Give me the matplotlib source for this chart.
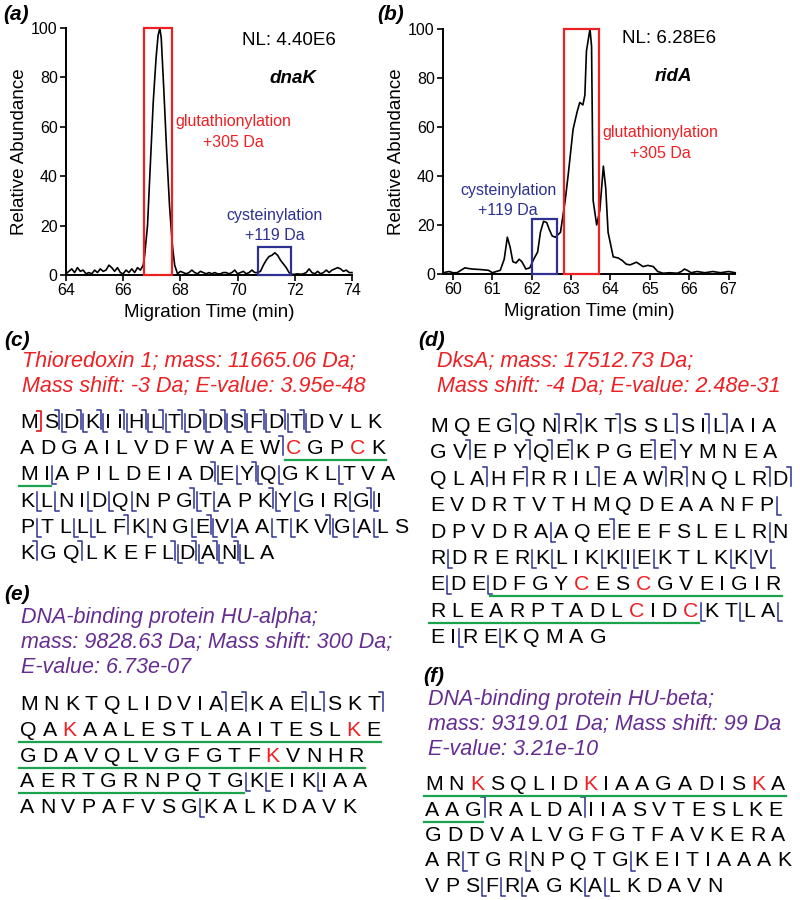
import matplotlib
matplotlib.use('Agg')
import matplotlib.pyplot as plt
from matplotlib.patches import Rectangle

plt.rcParams['font.family'] = ['Liberation Sans', 'DejaVu Sans']

RED = '#ed2024'
BLUE = '#2e3192'
GREEN = '#1ba24f'
PURPLE = '#662d91'

# (a) dnaK electropherogram
time_a = [64.0, 64.1, 64.2, 64.3, 64.4, 64.5, 64.6, 64.7, 64.8, 64.9, 65.0, 65.1, 65.2, 65.3,
          65.4, 65.5, 65.6, 65.7, 65.8, 65.9, 66.0, 66.1, 66.2, 66.3, 66.4, 66.5, 66.6, 66.7,
          66.75, 66.85, 66.95, 67.05, 67.15, 67.22, 67.28, 67.33, 67.42, 67.52, 67.62, 67.72,
          67.8, 67.9, 68.0, 68.1, 68.2, 68.3, 68.4, 68.5, 68.6, 68.7, 68.8, 68.9, 69.0, 69.1,
          69.2, 69.3, 69.4, 69.5, 69.6, 69.7, 69.8, 69.9, 70.0, 70.1, 70.2, 70.3, 70.4, 70.5,
          70.6, 70.7, 70.8, 70.9, 71.0, 71.1, 71.2, 71.3, 71.4, 71.5, 71.6, 71.7, 71.8, 71.9,
          72.0, 72.1, 72.2, 72.3, 72.4, 72.5, 72.6, 72.7, 72.8, 72.9, 73.0, 73.1, 73.2, 73.3,
          73.4, 73.5, 73.6, 73.7, 73.8, 73.9, 74.0]
abund_a = [0.5, 1.5, 2.5, 1, 3, 1.5, 2, 0.5, 1, 0.5, 2, 1, 2.5, 1.5,
           2, 4, 3, 1.5, 3, 1, 0.5, 2, 1, 2.5, 1, 3, 2, 4,
           8, 20, 45, 70, 88, 97, 100, 96, 75, 50, 28, 12,
           4, 0.5, 1.5, 1, 0.5, 1, 2, 1, 0.5, 1.5, 1, 0.5, 1, 0.5,
           1, 0.5, 0.5, 1, 1, 0.5, 1, 2, 0.5, 1, 1.5, 0.5, 1, 2,
           1, 1, 1.5, 4, 6, 7.5, 8, 9, 8, 6, 4.5, 3, 1, 0.3,
           0.3, 0.5, 0.3, 0.5, 1, 2.5, 1, 0.5, 1.5, 0.5, 1, 2, 1, 2,
           2.5, 3, 2.5, 1.5, 2, 1, 1]

# (b) ridA electropherogram
time_b = [59.75, 59.9, 60.0, 60.1, 60.2, 60.3, 60.4, 60.5, 60.7, 60.9, 61.0, 61.1, 61.2,
          61.3, 61.38, 61.45, 61.52, 61.6, 61.68, 61.75, 61.85, 61.95, 62.05, 62.15, 62.22,
          62.3, 62.38, 62.45, 62.52, 62.6, 62.73, 62.85, 62.93, 63.05, 63.15, 63.22, 63.3,
          63.35, 63.39, 63.48, 63.52, 63.56, 63.65, 63.73, 63.82, 63.88, 63.94, 64.07, 64.2,
          64.3, 64.4, 64.5, 64.66, 64.83, 64.95, 65.09, 65.2, 65.34, 65.5, 65.7, 65.8, 65.88,
          65.95, 66.05, 66.2, 66.4, 66.6, 66.8, 67.0, 67.17]
abund_b = [0.5, 1, 0.5, 0.5, 1.5, 2.5, 2.2, 2, 1.8, 1.5, 0.5, 1, 1.5,
           6, 15, 11, 5, 4.5, 6, 5, 2, 2.5, 6, 9, 17,
           21.5, 21, 18, 15.5, 15, 17, 30, 41, 59, 66, 70, 69,
           73, 91, 100, 93, 30, 20, 26, 44, 35, 17, 7, 6.5,
           5.5, 4, 3.7, 4.8, 3, 3.5, 3, 1, 0.3, 0.5, 0.3, 1, 2,
           1.5, 0.5, 1, 0.5, 1, 0.5, 1, 0.5]

# boxed windows: (start, end, top)
glut_box_a = (66.73, 67.70, 100)
cys_box_a = (70.73, 71.88, 11.2)
glut_box_b = (62.82, 63.71, 100)
cys_box_b = (62.00, 62.63, 22.4)

# sequences, fragment cleavages (row, col, type), red residues, underlines
seq_c = ["MSDKIIHLTDDSFDTDVLK", "ADGAILVDFWAEWCGPCK", "MIAPILDEIADEYQGKLTVA",
         "KLNIDQNPGTAPKYGIRGI", "PTLLLFKNGEVAATKVGALS", "KGQLKEFLDANLA"]
cuts_c = [(0, 0, 'R'), (0, 1, 'by'), (0, 2, 'by'), (0, 3, 'by'), (0, 5, 'by'), (0, 6, 'by'),
          (0, 7, 'by'), (0, 8, 'by'), (0, 9, 'by'), (0, 10, 'by'), (0, 11, 'by'), (0, 12, 'by'),
          (0, 13, 'by'), (0, 14, 'by'),
          (1, 12, 'b'),
          (2, 1, 'y'), (2, 10, 'by'), (2, 11, 'y'), (2, 12, 'by'), (2, 13, 'y'), (2, 16, 'y'),
          (3, 0, 'y'), (3, 1, 'y'), (3, 3, 'y'), (3, 4, 'y'), (3, 5, 'y'), (3, 8, 'by'),
          (3, 9, 'y'), (3, 12, 'by'), (3, 13, 'y'), (3, 16, 'y'), (3, 17, 'by'),
          (4, 0, 'y'), (4, 2, 'y'), (4, 3, 'y'), (4, 5, 'b'), (4, 6, 'y'), (4, 8, 'y'),
          (4, 9, 'by'), (4, 10, 'y'), (4, 12, 'y'), (4, 13, 'y'), (4, 15, 'by'), (4, 16, 'y'),
          (4, 17, 'y'),
          (5, 0, 'b'), (5, 2, 'b'), (5, 7, 'by'), (5, 8, 'by'), (5, 9, 'by'), (5, 10, 'by')]
red_c = [(1, 13), (1, 16)]
under_c = [(1, 13, 17), (2, 0, 1)]
hdr_c = ["Thioredoxin 1; mass: 11665.06 Da;", "Mass shift: -3 Da; E-value: 3.95e-48"]

seq_d = ["MQEGQNRKTSSLSILAIA", "GVEPYQEKPGEEYMNEA", "QLAHFRRILEAWRNQLRD",
         "EVDRTVTHMQDEAANFP", "DPVDRAAQEEEFSLELRN", "RDRERKLIKKIEKTLKKV",
         "EDEDFGYCESCGVEIGIR", "RLEARPTADLCIDCKTLA", "EIREKQMAG"]
cuts_d = [(0, 3, 'b'), (0, 5, 'b'), (0, 6, 'b'), (0, 8, 'b'), (0, 11, 'b'), (0, 13, 'b'),
          (0, 14, 'b'),
          (1, 1, 'b'), (1, 4, 'b'), (1, 5, 'b'), (1, 6, 'b'), (1, 10, 'b'), (1, 11, 'b'),
          (2, 2, 'b'), (2, 4, 'b'), (2, 8, 'b'), (2, 11, 'b'), (2, 12, 'b'), (2, 16, 'b'),
          (2, 17, 'b'),
          (3, 16, 'y'),
          (4, 5, 'y'), (4, 8, 'b'), (4, 16, 'y'),
          (5, 0, 'y'), (5, 4, 'y'), (5, 5, 'y'), (5, 8, 'y'), (5, 9, 'y'), (5, 10, 'y'),
          (5, 11, 'y'), (5, 15, 'y'), (5, 16, 'y'), (5, 17, 'y'),
          (6, 0, 'y'), (6, 2, 'y'),
          (7, 13, 'y'), (7, 15, 'y'), (7, 17, 'y'),
          (8, 1, 'y'), (8, 3, 'y')]
red_d = [(6, 7), (6, 10), (7, 10), (7, 13)]
under_d = [(6, 3, 17), (7, 0, 13)]
hdr_d = ["DksA; mass: 17512.73 Da;", "Mass shift: -4 Da; E-value: 2.48e-31"]

seq_e = ["MNKTQLIDVIAEKAELSKT", "QAKAALESTLAAITESLKE", "GDAVQLVGFGTFKVNHR",
         "AERTGRNPQTGKEIKIAA", "ANVPAFVSGKALKDAVK"]
cuts_e = [(0, 10, 'b'), (0, 11, 'b'), (0, 14, 'b'), (0, 15, 'b'), (0, 18, 'b'),
          (3, 10, 'y'), (3, 11, 'y'), (3, 14, 'y'), (4, 8, 'y')]
red_e = [(1, 2), (1, 17), (2, 12)]
under_e = [(1, 0, 18), (2, 0, 16), (3, 0, 10)]
hdr_e = ["DNA-binding protein HU-alpha;", "mass: 9828.63 Da; Mass shift: 300 Da;",
         "E-value: 6.73e-07"]

seq_f = ["MNKSQLIDKIAAGADISKA", "AAGRALDAIIASVTESLKE", "GDDVALVGFGTFAVKERA",
         "ARTGRNPQTGKEITIAAAK", "VPSFRAGKALKDAVN"]
cuts_f = [(1, 2, 'b'), (1, 7, 'b'), (3, 1, 'y'), (3, 4, 'y'), (3, 9, 'y'),
          (4, 2, 'y'), (4, 3, 'y'), (4, 4, 'y'), (4, 7, 'y'), (4, 8, 'y')]
red_f = [(0, 2), (0, 8), (0, 17)]
under_f = [(0, 0, 18), (1, 0, 2)]
hdr_f = ["DNA-binding protein HU-beta;", "mass: 9319.01 Da; Mass shift: 99 Da",
         "E-value: 3.21e-10"]

# Arial/Liberation advance widths (1/1000 em)
ADV = {'A': 667, 'C': 722, 'D': 722, 'E': 667, 'F': 611, 'G': 778, 'H': 722, 'I': 278,
       'K': 667, 'L': 556, 'M': 833, 'N': 722, 'P': 667, 'Q': 778, 'R': 722, 'S': 667,
       'T': 611, 'V': 667, 'W': 944, 'Y': 667}
SPACE = 278
SEQ_FS = 15.3
EM = SEQ_FS * 100 / 72
CAP = 0.716 * EM

fig = plt.figure(figsize=(8, 9), dpi=100)
ax_t = fig.add_axes([0, 0, 1, 1])
ax_t.set_xlim(0, 800)
ax_t.set_ylim(900, 0)
ax_t.axis('off')
ax_t.patch.set_alpha(0)


def draw_sequence(rows, x0, base0, dy, cuts, reds, unders):
    lay = []
    for r, row in enumerate(rows):
        x = x0
        cells = []
        for ch in row:
            w = ADV[ch] / 1000 * EM
            cells.append((x, w))
            x += w + SPACE / 1000 * EM
        lay.append(cells)
        base = base0 + r * dy
        for c, ch in enumerate(row):
            col = RED if (r, c) in reds else 'black'
            left, w = cells[c]
            ax_t.text(left + w / 2, base, ch, ha='center', va='baseline',
                      fontsize=SEQ_FS, color=col)
    gap = SPACE / 1000 * EM
    for r, c, kind in cuts:
        left, w = lay[r][c]
        gx = left + w + gap / 2
        base = base0 + r * dy
        if kind == 'R':
            top, bot = base - CAP - 2, base + 3
            ax_t.plot([gx - 4, gx, gx, gx - 4], [top, top, bot, bot], color=RED, lw=1.3)
            continue
        bx, yx = (gx - 1.3, gx + 1.3) if kind == 'by' else (gx, gx)
        if 'b' in kind:
            top = base - CAP - 3
            ax_t.plot([bx - 4, bx, bx], [top, top, base + 1], color=BLUE, lw=1.1)
        if 'y' in kind:
            bot = base + 4
            ax_t.plot([yx, yx, yx + 4], [base - CAP + 1, bot, bot], color=BLUE, lw=1.1)
    for r, s, e in unders:
        base = base0 + r * dy
        x1 = lay[r][s][0] - 1
        x2 = lay[r][e][0] + lay[r][e][1] + 1
        ax_t.plot([x1, x2], [base + 6, base + 6], color=GREEN, lw=1.6)


def draw_header(lines, x0, base0, dy, color):
    for i, line in enumerate(lines):
        ax_t.text(x0, base0 + i * dy, line, ha='left', va='baseline', fontsize=15.5,
                  style='italic', color=color)


for lab, x, y in [('(a)', 3, 14), ('(b)', 377, 15), ('(c)', 4, 340), ('(d)', 418, 341),
                  ('(e)', 4, 595), ('(f)', 423, 677)]:
    ax_t.text(x, y, lab, ha='left', va='center', fontsize=15, weight='bold', style='italic')

draw_header(hdr_c, 22, 367, 25, RED)
draw_sequence(seq_c, 20, 428, 26.2, cuts_c, red_c, under_c)
draw_header(hdr_d, 437, 367, 25, RED)
draw_sequence(seq_d, 430, 432, 26.4, cuts_d, red_d, under_d)
draw_header(hdr_e, 21, 623, 25, PURPLE)
draw_sequence(seq_e, 20, 710, 25.8, cuts_e, red_e, under_e)
draw_header(hdr_f, 428, 705, 25, PURPLE)
draw_sequence(seq_f, 425, 790, 25.5, cuts_f, red_f, under_f)


def style_axes(ax):
    for s in ['top', 'right']:
        ax.spines[s].set_visible(False)
    for s in ['left', 'bottom']:
        ax.spines[s].set_linewidth(1.4)
    ax.tick_params(direction='out', length=4, width=1.2, labelsize=11.5, pad=2)
    ax.set_ylim(0, 100)
    ax.set_yticks([0, 20, 40, 60, 80, 100])
    ax.set_ylabel('Relative Abundance', fontsize=13.5, labelpad=2)
    ax.set_xlabel('Migration Time (min)', fontsize=13.5, labelpad=4)
    ax.patch.set_alpha(0)


def box(ax, win, color):
    ax.add_patch(Rectangle((win[0], 0), win[1] - win[0], win[2], fill=False,
                           edgecolor=color, lw=1.6, clip_on=False, zorder=3))


ax_a = fig.add_axes([0.0825, 0.6944, 0.3575, 0.2744])
ax_a.plot(time_a, abund_a, color='black', lw=1.2, clip_on=False)
ax_a.set_xlim(64, 74)
ax_a.set_xticks(range(64, 75, 2))
style_axes(ax_a)
box(ax_a, glut_box_a, RED)
box(ax_a, cys_box_a, BLUE)
ax_a.text(71.8, 95, 'NL: 4.40E6', ha='center', va='center', fontsize=13.5)
ax_a.text(71.95, 79.5, 'dnaK', ha='center', va='center', fontsize=13.5,
          weight='bold', style='italic')
ax_a.text(69.85, 58, 'glutathionylation\n+305 Da', ha='center', va='center',
          fontsize=11.5, color=RED, linespacing=1.45)
ax_a.text(71.3, 20, 'cysteinylation\n+119 Da', ha='center', va='center',
          fontsize=11.5, color=BLUE, linespacing=1.45)

ax_b = fig.add_axes([0.554, 0.6956, 0.365, 0.2722])
ax_b.plot(time_b, abund_b, color='black', lw=1.2, clip_on=False)
ax_b.set_xlim(59.75, 67.17)
ax_b.set_xticks(range(60, 68))
style_axes(ax_b)
box(ax_b, glut_box_b, RED)
box(ax_b, cys_box_b, BLUE)
ax_b.text(65.5, 96, 'NL: 6.28E6', ha='center', va='center', fontsize=13.5)
ax_b.text(65.6, 80.5, 'ridA', ha='center', va='center', fontsize=13.5,
          weight='bold', style='italic')
ax_b.text(65.26, 53.5, 'glutathionylation\n+305 Da', ha='center', va='center',
          fontsize=11.5, color=RED, linespacing=1.45)
ax_b.text(61.4, 30, 'cysteinylation\n+119 Da', ha='center', va='center',
          fontsize=11.5, color=BLUE, linespacing=1.45)

fig.savefig('out.png', dpi=100)
